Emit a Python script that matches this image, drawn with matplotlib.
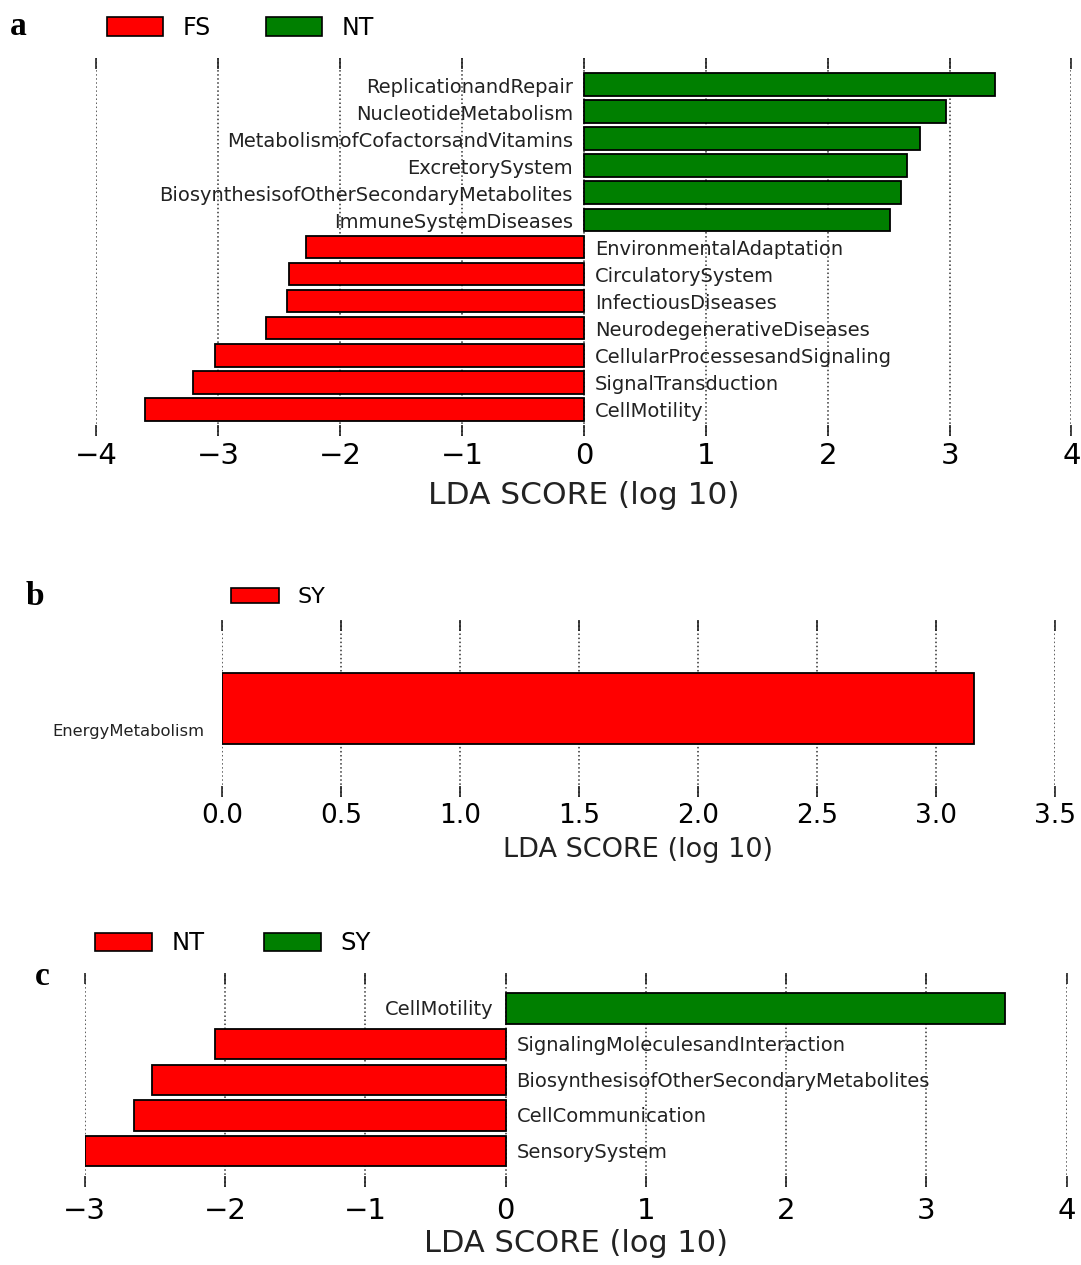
import numpy as np
import matplotlib as mpl
mpl.use('Agg')
import matplotlib.pyplot as plt
from matplotlib.patches import Patch
from matplotlib.transforms import offset_copy

# panel a: FS vs NT
a_names = ['ReplicationandRepair', 'NucleotideMetabolism', 'MetabolismofCofactorsandVitamins',
           'ExcretorySystem', 'BiosynthesisofOtherSecondaryMetabolites', 'ImmuneSystemDiseases',
           'EnvironmentalAdaptation', 'CirculatorySystem', 'InfectiousDiseases',
           'NeurodegenerativeDiseases', 'CellularProcessesandSignaling', 'SignalTransduction',
           'CellMotility']
a_scores = [3.37, 2.97, 2.76, 2.65, 2.60, 2.51, -2.28, -2.42, -2.44, -2.61, -3.03, -3.21, -3.60]
a_class = ['NT'] * 6 + ['FS'] * 7
a_groups = ['FS', 'NT']
a_ticks = [-4, -3, -2, -1, 0, 1, 2, 3, 4]

# panel b: SY only
b_names = ['EnergyMetabolism']
b_scores = [3.16]
b_class = ['SY']
b_groups = ['SY']
b_ticks = [0.0, 0.5, 1.0, 1.5, 2.0, 2.5, 3.0, 3.5]

# panel c: NT vs SY
c_names = ['CellMotility', 'SignalingMoleculesandInteraction',
           'BiosynthesisofOtherSecondaryMetabolites', 'CellCommunication', 'SensorySystem']
c_scores = [3.56, -2.07, -2.52, -2.65, -3.00]
c_class = ['SY', 'NT', 'NT', 'NT', 'NT']
c_groups = ['NT', 'SY']
c_ticks = [-3, -2, -1, 0, 1, 2, 3, 4]

RED = '#ff0000'
GREEN = '#007f00'
plt.rcParams['font.family'] = 'DejaVu Sans'

fig = plt.figure(figsize=(10.81, 12.65), dpi=100)


def style_axis(ax, ticks, tick_fs, label_fs, pad=3, lpad=4):
    for s in ax.spines.values():
        s.set_visible(False)
    ax.set_xticks(ticks)
    ax.set_xlim(ticks[0], ticks[-1])
    ax.set_yticks([])
    ax.tick_params(axis='x', direction='in', length=8, width=1.2, top=True, bottom=True,
                   labelsize=tick_fs, pad=pad, color='#222222')
    ax.xaxis.grid(True, ls=':', color='#333333', lw=1.1)
    ax.set_axisbelow(True)
    ax.set_xlabel('LDA SCORE (log 10)', fontsize=label_fs, color='#222222', labelpad=lpad)


def bars(ax, names, scores, classes, colors, height=0.85):
    n = len(names)
    ypos = np.arange(n)[::-1]
    cols = [colors[c] for c in classes]
    ax.barh(ypos, scores, height=height, color=cols, edgecolor='black', lw=1.3, zorder=3)
    ax.set_ylim(-1, n)
    return ypos


def legend(groups, colors, x, y, fs, hl, hh, tp, cs):
    handles = [Patch(facecolor=colors[g], edgecolor='black', lw=1.2, label=g) for g in groups]
    fig.legend(handles=handles, loc='center left', bbox_to_anchor=(x, y), ncol=len(groups),
               frameon=False, fontsize=fs, handlelength=hl, handleheight=hh,
               handletextpad=tp, columnspacing=cs, borderpad=0, borderaxespad=0)


# ---- a ----
cols_a = {'FS': RED, 'NT': GREEN}
ax1 = fig.add_axes([0.0892, 0.6553, 0.902, 0.2989])
yp = bars(ax1, a_names, a_scores, a_class, cols_a)
style_axis(ax1, a_ticks, 21, 22.5, pad=4, lpad=8)
left = offset_copy(ax1.transData, fig=fig, x=-8, y=-2, units='points')
right = offset_copy(ax1.transData, fig=fig, x=8, y=-2, units='points')
for nm, sc, y in zip(a_names, a_scores, yp):
    if sc > 0:
        ax1.text(0, y, nm, ha='right', va='center', fontsize=14, color='#222222', transform=left)
    else:
        ax1.text(0, y, nm, ha='left', va='center', fontsize=14, color='#222222', transform=right)
legend(a_groups, cols_a, 0.099, 0.978, 17, 2.37, 0.85, 0.85, 2.3)
fig.text(0.009, 0.9723, 'a', fontsize=24, fontweight='bold', family='Liberation Serif', va='baseline')

# ---- b ----
cols_b = {'SY': RED}
ax2 = fig.add_axes([0.2054, 0.3700, 0.7704, 0.1399])
yp = bars(ax2, b_names, b_scores, b_class, cols_b, height=0.8)
style_axis(ax2, b_ticks, 19, 19.5, pad=4, lpad=6)
ax2.set_xticks(b_ticks)
ax2.set_xticklabels(['%.1f' % t for t in b_ticks])
for nm, y in zip(b_names, yp):
    ax2.text(-0.0216, y - 0.26, nm, ha='right', va='center', fontsize=11.8, color='#222222',
             transform=ax2.get_yaxis_transform())
legend(b_groups, cols_b, 0.2137, 0.5277, 16, 2.16, 0.68, 0.81, 2.3)
fig.text(0.024, 0.5217, 'b', fontsize=24, fontweight='bold', family='Liberation Serif', va='baseline')

# ---- c ----
cols_c = {'NT': RED, 'SY': GREEN}
ax3 = fig.add_axes([0.0784, 0.0617, 0.9082, 0.1692])
yp = bars(ax3, c_names, c_scores, c_class, cols_c)
style_axis(ax3, c_ticks, 21, 22, pad=7, lpad=3)
left = offset_copy(ax3.transData, fig=fig, x=-9, y=-1, units='points')
right = offset_copy(ax3.transData, fig=fig, x=8, y=-1, units='points')
for nm, sc, y in zip(c_names, c_scores, yp):
    if sc > 0:
        ax3.text(0, y, nm, ha='right', va='center', fontsize=14, color='#222222', transform=left)
    else:
        ax3.text(0, y, nm, ha='left', va='center', fontsize=14, color='#222222', transform=right)
legend(c_groups, cols_c, 0.0879, 0.2542, 17.5, 2.35, 0.78, 0.82, 2.4)
fig.text(0.032, 0.2213, 'c', fontsize=24, fontweight='bold', family='Liberation Serif', va='baseline')

fig.savefig('out.png', dpi=100)
